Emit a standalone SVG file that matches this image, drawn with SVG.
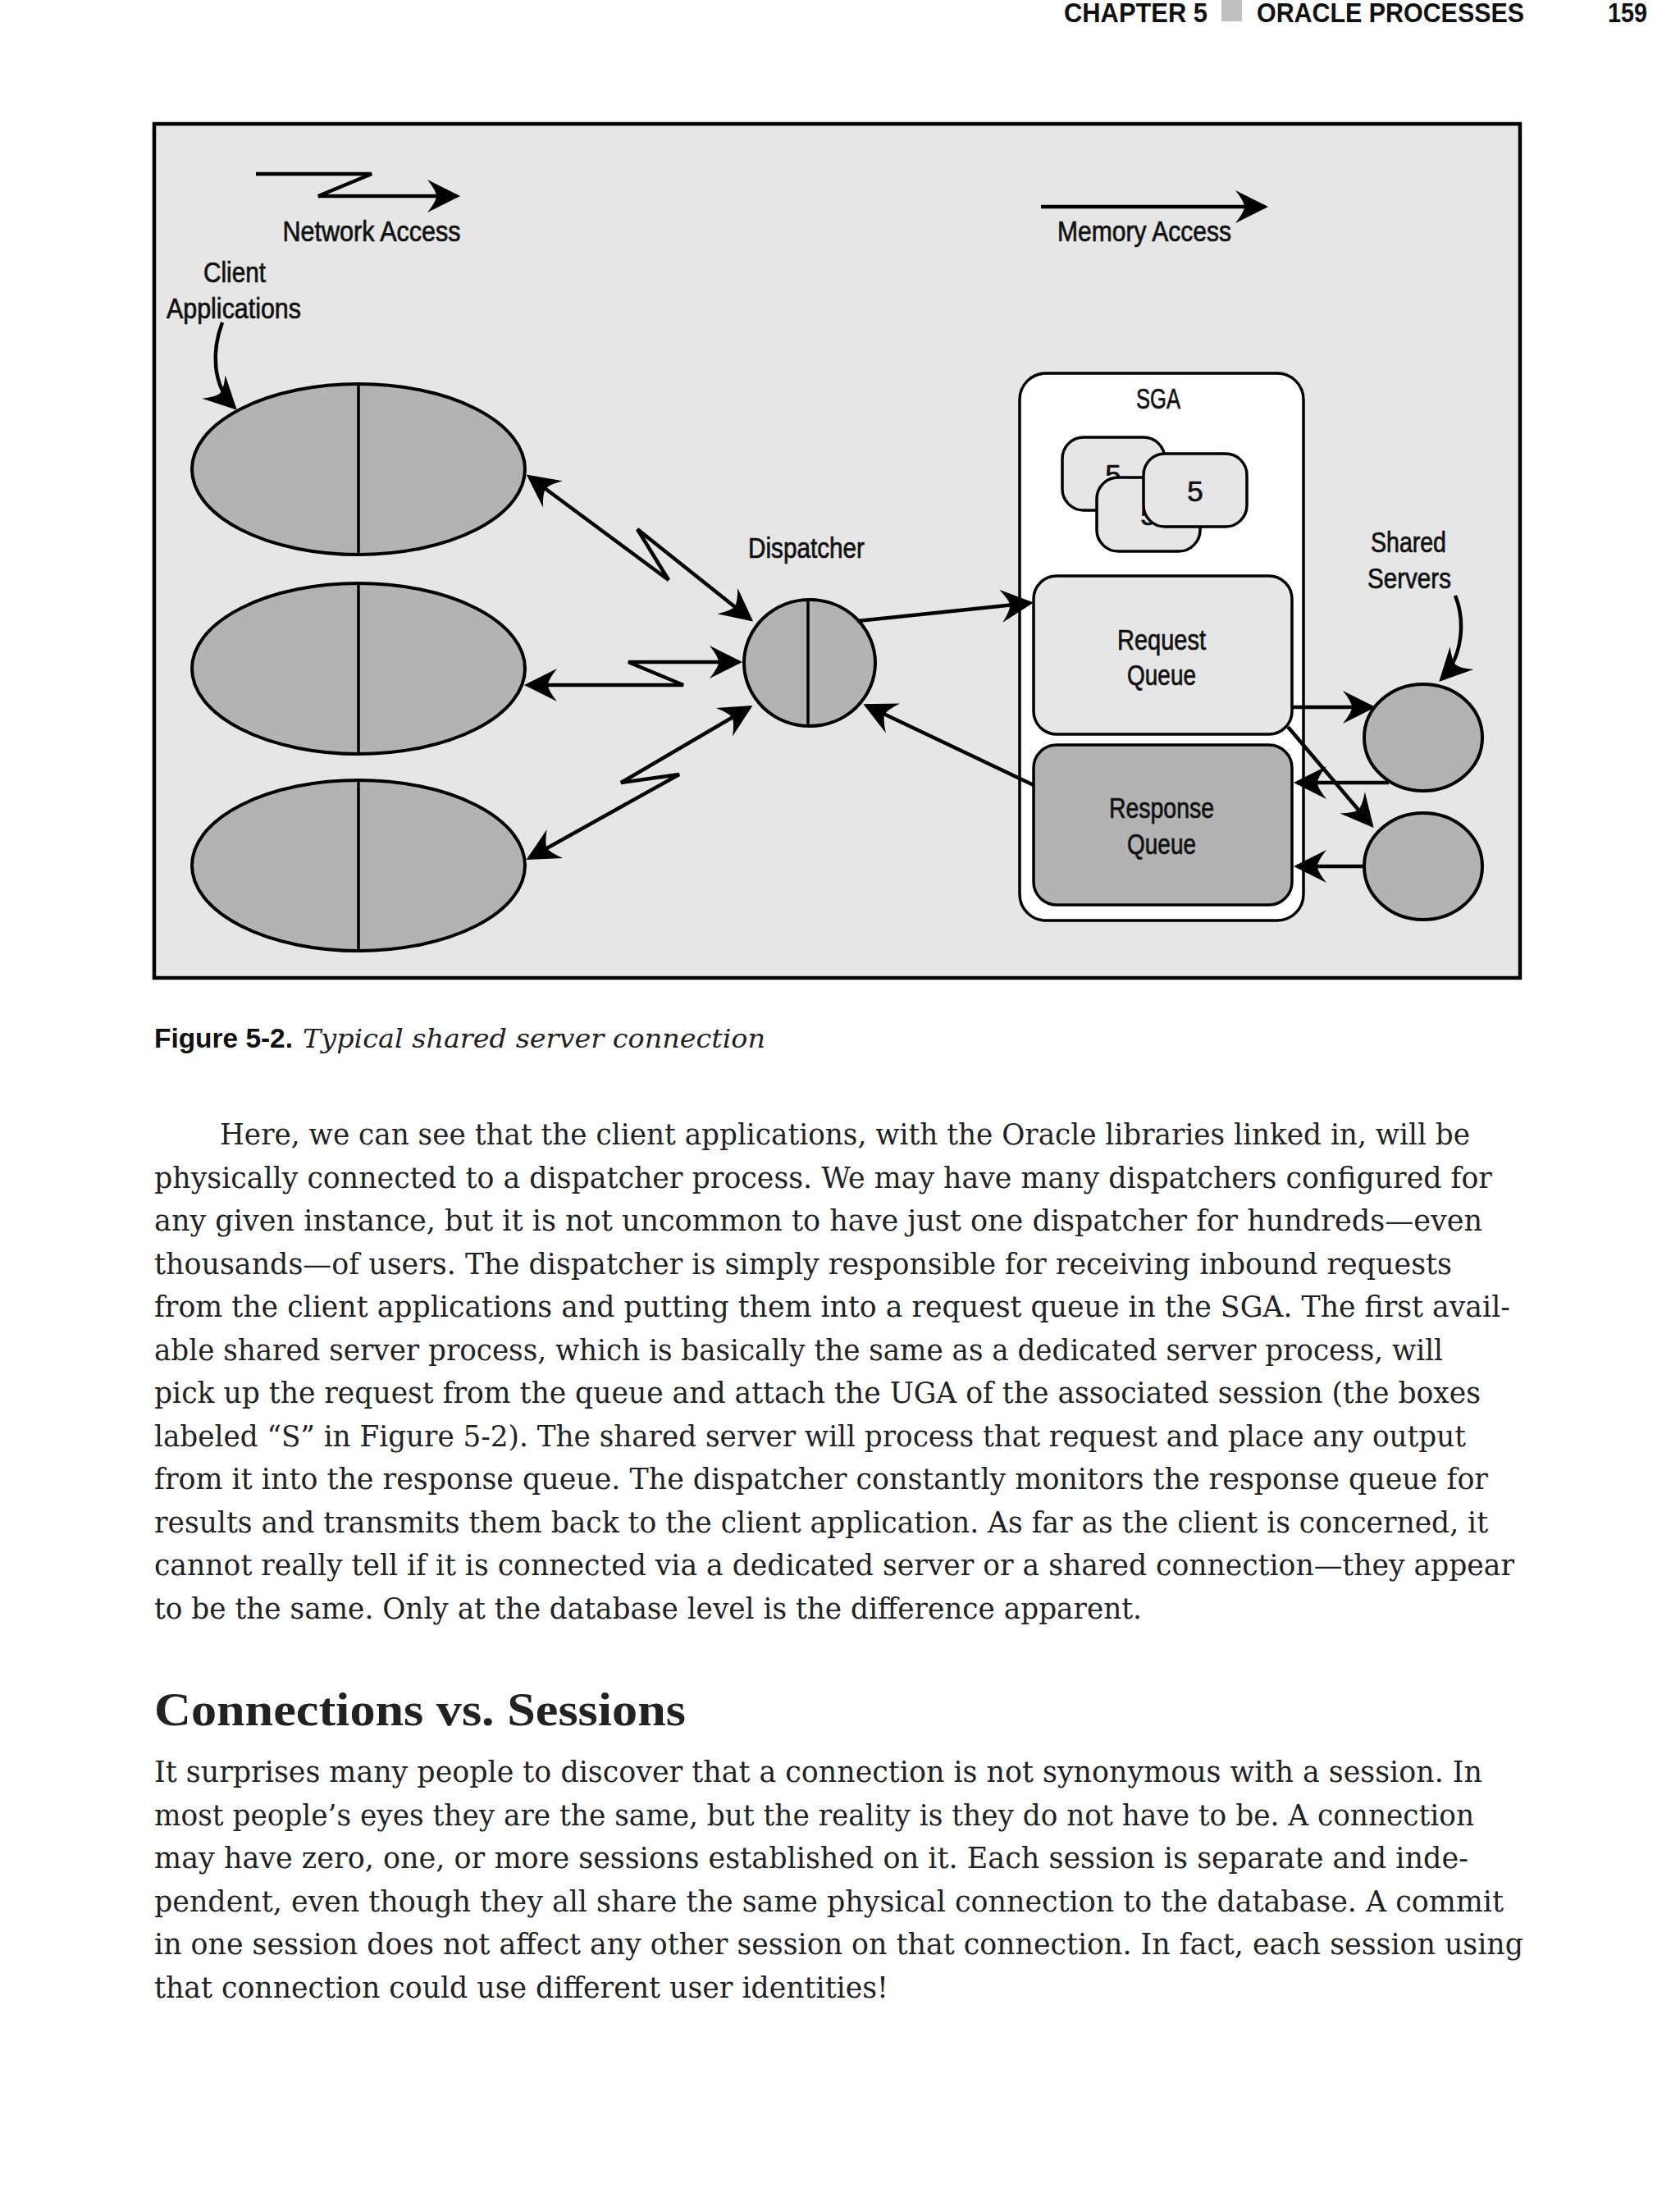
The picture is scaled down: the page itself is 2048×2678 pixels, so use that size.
<svg xmlns="http://www.w3.org/2000/svg" width="2048" height="2678" viewBox="0 0 2048 2678">
<defs>
<style>
.lbl{font-family:"Liberation Sans Narrow","Liberation Sans",Arial,sans-serif;font-size:35px;fill:#111;stroke:#111;stroke-width:0.7px;text-anchor:middle;}
.hdr{font-family:"Liberation Sans Narrow","Liberation Sans",Arial,sans-serif;font-size:34px;font-weight:bold;fill:#111;}
.body{font-family:"DejaVu Serif",serif;font-size:35px;fill:#222;}
.conn{fill:none;stroke:#000;stroke-width:4.5;}
.gray{fill:#b3b3b3;stroke:#000;stroke-width:4;}
.light{fill:#e6e6e6;stroke:#000;stroke-width:3.5;}
.div{stroke:#000;stroke-width:3.5;}
</style>
<marker id="ah" viewBox="-45 -25 50 50" markerWidth="50" markerHeight="50" refX="0" refY="0" orient="auto-start-reverse" markerUnits="userSpaceOnUse">
<path d="M4,0 L-36,-20 Q-25,-6 -25,0 Q-25,6 -36,20 Z" fill="#000"/>
</marker>
</defs>
<rect x="0" y="0" width="2048" height="2678" fill="#ffffff"/>

<g id="header">
<text class="hdr" x="1297" y="27" textLength="175" lengthAdjust="spacingAndGlyphs">CHAPTER 5</text>
<rect x="1489" y="0" width="25" height="26" fill="#c0c0c0"/>
<text class="hdr" x="1532" y="27" textLength="326" lengthAdjust="spacingAndGlyphs">ORACLE PROCESSES</text>
<text class="hdr" x="1960" y="27" textLength="48" lengthAdjust="spacingAndGlyphs">159</text>
</g>

<rect id="frame" x="188" y="151" width="1665" height="1041" fill="#e6e6e6" stroke="#000" stroke-width="4.5"/>

<g id="legend">
<path class="conn" d="M312,212 H453 L388,239 H557" marker-end="url(#ah)"/>
<text class="lbl" x="453" y="294" textLength="217" lengthAdjust="spacingAndGlyphs">Network Access</text>
<path class="conn" d="M1269,252 H1542" marker-end="url(#ah)"/>
<text class="lbl" x="1395" y="294" textLength="212" lengthAdjust="spacingAndGlyphs">Memory Access</text>
</g>

<g id="client-label">
<text class="lbl" x="286" y="344" textLength="76" lengthAdjust="spacingAndGlyphs">Client</text>
<text class="lbl" x="285" y="388" textLength="164" lengthAdjust="spacingAndGlyphs">Applications</text>
</g>

<g id="client1">
<ellipse class="gray" cx="437" cy="572" rx="203" ry="104"/>
<line class="div" x1="437" y1="468" x2="437" y2="676"/>
</g>
<g id="client2">
<ellipse class="gray" cx="437" cy="815" rx="203" ry="104"/>
<line class="div" x1="437" y1="711" x2="437" y2="919"/>
</g>
<g id="client3">
<ellipse class="gray" cx="437" cy="1055" rx="203" ry="104"/>
<line class="div" x1="437" y1="951" x2="437" y2="1159"/>
</g>

<g id="dispatcher">
<ellipse class="gray" cx="987" cy="808" rx="80" ry="77"/>
<line class="div" x1="985" y1="731" x2="985" y2="885"/>
<text class="lbl" x="983" y="680" textLength="142" lengthAdjust="spacingAndGlyphs">Dispatcher</text>
</g>

<g id="sga">
<rect x="1243" y="455" width="346" height="667" rx="32" fill="#ffffff" stroke="#000" stroke-width="3.5"/>
<text class="lbl" x="1412" y="498" textLength="54" lengthAdjust="spacingAndGlyphs">SGA</text>
</g>

<g id="session1">
<rect class="light" x="1295" y="533" width="125" height="89" rx="26"/>
<text class="lbl" x="1357" y="591" font-size="32">5</text>
</g>
<g id="session2">
<rect class="light" x="1337" y="582" width="126" height="90" rx="26"/>
<text class="lbl" x="1400" y="640" font-size="32">5</text>
</g>
<g id="session3">
<rect class="light" x="1394" y="553" width="126" height="89" rx="26"/>
<text class="lbl" x="1457" y="611" font-size="32">5</text>
</g>

<g id="request-queue">
<rect class="light" x="1260" y="702" width="315" height="193" rx="28"/>
<text class="lbl" x="1416" y="792" textLength="108" lengthAdjust="spacingAndGlyphs">Request</text>
<text class="lbl" x="1416" y="835" textLength="84" lengthAdjust="spacingAndGlyphs">Queue</text>
</g>

<g id="response-queue">
<rect x="1260" y="908" width="315" height="195" rx="28" fill="#b3b3b3" stroke="#000" stroke-width="3.5"/>
<text class="lbl" x="1416" y="997" textLength="128" lengthAdjust="spacingAndGlyphs">Response</text>
<text class="lbl" x="1416" y="1041" textLength="84" lengthAdjust="spacingAndGlyphs">Queue</text>
</g>

<g id="shared-label">
<text class="lbl" x="1717" y="673" textLength="92" lengthAdjust="spacingAndGlyphs">Shared</text>
<text class="lbl" x="1718" y="717" textLength="102" lengthAdjust="spacingAndGlyphs">Servers</text>
</g>

<g id="server1">
<ellipse class="gray" cx="1735" cy="899" rx="72" ry="65"/>
</g>
<g id="server2">
<ellipse class="gray" cx="1735" cy="1056" rx="72" ry="65"/>
</g>

<g id="connectors">
<path class="conn" d="M271,393 C259,425 257,468 286,497" marker-end="url(#ah)"/>
<path class="conn" d="M1774,726 C1786,756 1784,800 1757,828" marker-end="url(#ah)"/>
<path class="conn" d="M645,581 L815,707 L777,645 L915,755" marker-start="url(#ah)" marker-end="url(#ah)"/>
<path class="conn" d="M643,835 H833 L766,807 H901" marker-start="url(#ah)" marker-end="url(#ah)"/>
<path class="conn" d="M645,1046 L828,944 L757,954 L914,862" marker-start="url(#ah)" marker-end="url(#ah)"/>
<path class="conn" d="M1045,757 L1256,735" marker-end="url(#ah)"/>
<path class="conn" d="M1260,957 L1056,860" marker-end="url(#ah)"/>
<path class="conn" d="M1575,862 H1673" marker-end="url(#ah)"/>
<path class="conn" d="M1570,886 L1672,1006" marker-end="url(#ah)"/>
<path class="conn" d="M1693,954 H1581" marker-end="url(#ah)"/>
<path class="conn" d="M1663,1056 H1581" marker-end="url(#ah)"/>
</g>

<g id="caption">
<text x="188" y="1277" font-family="'Liberation Sans Narrow','Liberation Sans',Arial,sans-serif" font-weight="bold" font-size="34" fill="#111" textLength="169" lengthAdjust="spacingAndGlyphs">Figure 5-2.</text>
<text x="369" y="1277" font-family="'DejaVu Serif',serif" font-style="italic" font-size="32" fill="#222" textLength="564" lengthAdjust="spacingAndGlyphs">Typical shared server connection</text>
</g>

<g id="paragraph1">
<text class="body" x="268" y="1395" textLength="1524" lengthAdjust="spacingAndGlyphs">Here, we can see that the client applications, with the Oracle libraries linked in, will be</text>
<text class="body" x="188" y="1447.5" textLength="1631" lengthAdjust="spacingAndGlyphs">physically connected to a dispatcher process. We may have many dispatchers configured for</text>
<text class="body" x="188" y="1500" textLength="1619" lengthAdjust="spacingAndGlyphs">any given instance, but it is not uncommon to have just one dispatcher for hundreds—even</text>
<text class="body" x="188" y="1552.5" textLength="1582" lengthAdjust="spacingAndGlyphs">thousands—of users. The dispatcher is simply responsible for receiving inbound requests</text>
<text class="body" x="188" y="1605" textLength="1653" lengthAdjust="spacingAndGlyphs">from the client applications and putting them into a request queue in the SGA. The first avail-</text>
<text class="body" x="188" y="1657.5" textLength="1571" lengthAdjust="spacingAndGlyphs">able shared server process, which is basically the same as a dedicated server process, will</text>
<text class="body" x="188" y="1710" textLength="1617" lengthAdjust="spacingAndGlyphs">pick up the request from the queue and attach the UGA of the associated session (the boxes</text>
<text class="body" x="188" y="1762.5" textLength="1599" lengthAdjust="spacingAndGlyphs">labeled “S” in Figure 5-2). The shared server will process that request and place any output</text>
<text class="body" x="188" y="1815" textLength="1626" lengthAdjust="spacingAndGlyphs">from it into the response queue. The dispatcher constantly monitors the response queue for</text>
<text class="body" x="188" y="1867.5" textLength="1626" lengthAdjust="spacingAndGlyphs">results and transmits them back to the client application. As far as the client is concerned, it</text>
<text class="body" x="188" y="1920" textLength="1658" lengthAdjust="spacingAndGlyphs">cannot really tell if it is connected via a dedicated server or a shared connection—they appear</text>
<text class="body" x="188" y="1972.5" textLength="1204" lengthAdjust="spacingAndGlyphs">to be the same. Only at the database level is the difference apparent.</text>
</g>

<g id="heading">
<text x="188" y="2103" font-family="'Liberation Serif',serif" font-weight="bold" font-size="58" fill="#222" textLength="648" lengthAdjust="spacingAndGlyphs">Connections vs. Sessions</text>
</g>

<g id="paragraph2">
<text class="body" x="188" y="2172" textLength="1619" lengthAdjust="spacingAndGlyphs">It surprises many people to discover that a connection is not synonymous with a session. In</text>
<text class="body" x="188" y="2224.5" textLength="1609" lengthAdjust="spacingAndGlyphs">most people’s eyes they are the same, but the reality is they do not have to be. A connection</text>
<text class="body" x="188" y="2277" textLength="1602" lengthAdjust="spacingAndGlyphs">may have zero, one, or more sessions established on it. Each session is separate and inde-</text>
<text class="body" x="188" y="2329.5" textLength="1645" lengthAdjust="spacingAndGlyphs">pendent, even though they all share the same physical connection to the database. A commit</text>
<text class="body" x="188" y="2382" textLength="1669" lengthAdjust="spacingAndGlyphs">in one session does not affect any other session on that connection. In fact, each session using</text>
<text class="body" x="188" y="2434.5" textLength="895" lengthAdjust="spacingAndGlyphs">that connection could use different user identities!</text>
</g>
</svg>
